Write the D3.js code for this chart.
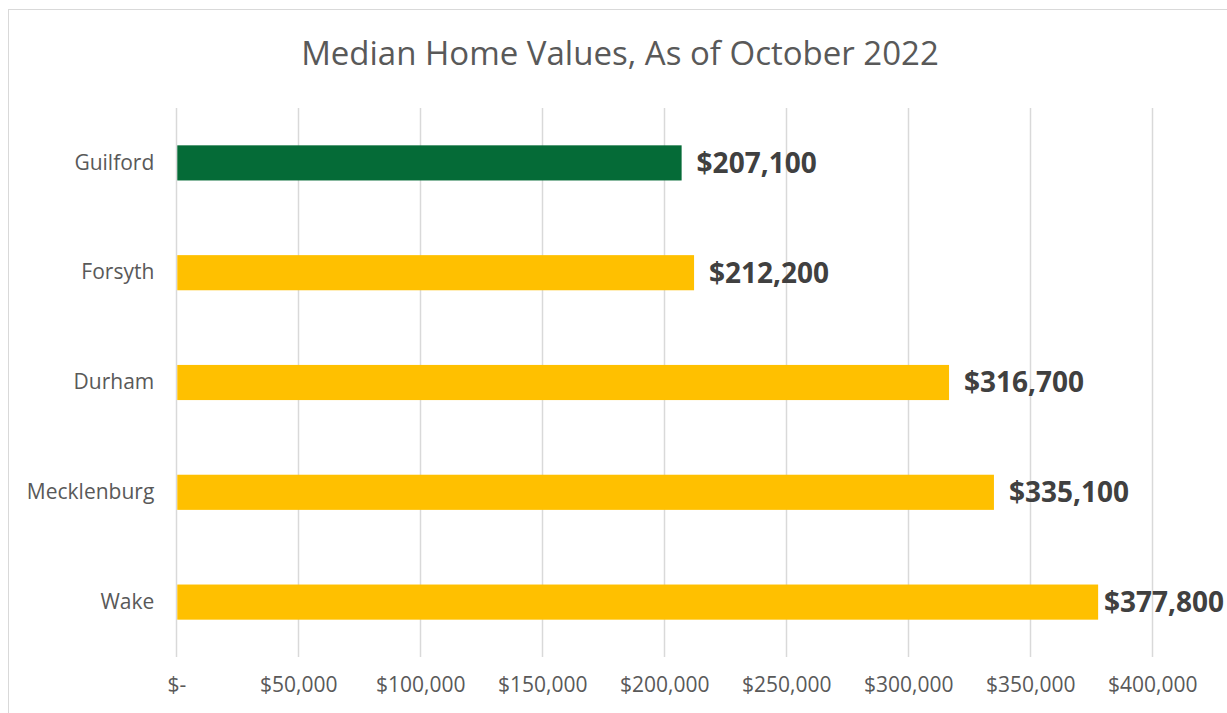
<!DOCTYPE html>
<html>
<head>
<meta charset="utf-8">
<script src="https://cdn.jsdelivr.net/npm/d3@7"></script>
<style>
  body { margin: 0; background: #fff; }
  text { font-family: "Open Sans", sans-serif; }
</style>
</head>
<body>
<div id="root"></div>
<script>
const counties = ['Guilford', 'Forsyth', 'Durham', 'Mecklenburg', 'Wake'];
const homeValues = [207100, 212200, 316700, 335100, 377800];
const tickValues = [0, 50000, 100000, 150000, 200000, 250000, 300000, 350000, 400000];
const highlight = 'Guilford';

const width = 1227;
const height = 713;
const plot = { left: 176.3, right: 1152.3, top: 108, bottom: 657 };

const svg = d3.select('#root')
  .append('svg')
  .attr('width', width)
  .attr('height', height);

// chart frame
svg.append('rect')
  .attr('x', 8.5)
  .attr('y', 9.5)
  .attr('width', 1240)
  .attr('height', 720)
  .attr('fill', 'none')
  .attr('stroke', '#d9d9d9');

svg.append('text')
  .attr('x', 620)
  .attr('y', 53)
  .attr('dy', '0.35em')
  .attr('text-anchor', 'middle')
  .attr('fill', '#595959')
  .style('font-size', '33px')
  .text('Median Home Values, As of October 2022');

const x = d3.scaleLinear()
  .domain([0, 400000])
  .range([plot.left, plot.right]);

const gap = 0.68;
const y = d3.scaleBand()
  .domain(counties)
  .range([plot.top, plot.bottom])
  .paddingInner(gap)
  .paddingOuter(gap / 2);

// vertical gridlines
svg.append('g')
  .selectAll('line')
  .data(tickValues)
  .join('line')
  .attr('x1', d => Math.round(x(d)) + 0.5)
  .attr('x2', d => Math.round(x(d)) + 0.5)
  .attr('y1', plot.top)
  .attr('y2', plot.bottom)
  .attr('stroke', '#d9d9d9')
  .attr('stroke-width', 1.5);

// x axis labels
const fmt = d => d === 0 ? '$-' : '$' + d3.format(',')(d);
const xAxis = svg.append('g')
  .attr('transform', `translate(0,${plot.bottom})`)
  .call(d3.axisBottom(x).tickValues(tickValues).tickFormat(fmt).tickSize(0).tickPadding(20));
xAxis.select('.domain').remove();
xAxis.selectAll('text')
  .attr('fill', '#595959')
  .style('font-size', '21px')
  .style('font-family', '"Open Sans", sans-serif');

// y axis labels
const yAxis = svg.append('g')
  .attr('transform', `translate(${plot.left},0)`)
  .call(d3.axisLeft(y).tickSize(0).tickPadding(22));
yAxis.select('.domain').remove();
yAxis.selectAll('text')
  .attr('fill', '#595959')
  .style('font-size', '21px')
  .style('font-family', '"Open Sans", sans-serif');

const rows = counties.map((c, i) => ({ county: c, value: homeValues[i] }));

svg.append('g')
  .selectAll('rect')
  .data(rows)
  .join('rect')
  .attr('x', x(0) + 1)
  .attr('y', d => y(d.county))
  .attr('width', d => x(d.value) - x(0) - 1)
  .attr('height', y.bandwidth())
  .attr('fill', d => d.county === highlight ? '#056b37' : '#ffc000');

// data labels
svg.append('g')
  .selectAll('text')
  .data(rows)
  .join('text')
  .attr('y', d => y(d.county) + y.bandwidth() / 2)
  .attr('dy', '0.35em')
  .attr('fill', '#404040')
  .style('font-size', '28px')
  .style('font-weight', 'bold')
  .text(d => '$' + d3.format(',')(d.value))
  .attr('x', function (d) {
    const w = this.getComputedTextLength();
    return Math.min(x(d.value) + 15, 1224 - w);
  });
</script>
</body>
</html>
